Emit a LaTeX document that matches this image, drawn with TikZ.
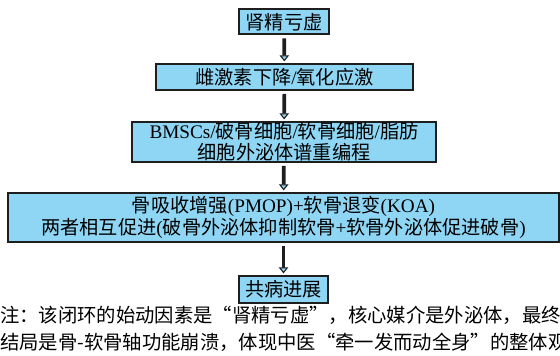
\documentclass[tikz,border=0pt]{standalone}
\usepackage{fontspec}
\setmainfont{Liberation Serif}
\newfontfamily\cjk{Noto Sans CJK SC}
\usetikzlibrary{arrows.meta}
\definecolor{boxblue}{RGB}{143,214,245}
\definecolor{edge}{RGB}{30,30,30}
\begin{document}
\begin{tikzpicture}[x=0.75pt,y=-0.75pt,
  box/.style={draw=edge, line width=1.5pt, fill=boxblue, inner sep=0pt, align=center,
    font=\fontsize{14.4}{16}\selectfont},
  flow/.style={draw=edge, line width=2.8pt,
    -{Triangle[width=7pt,length=4.5pt,line width=0.8pt,fill=boxblue]},
    shorten <=2.2pt, shorten >=1.2pt}]
\useasboundingbox (0,0) rectangle (560,356);
\node[box, minimum width=67.5pt, minimum height=18.75pt] (b1) at (284,22) {\cjk 肾精亏虚};
\node[box, minimum width=192.75pt, minimum height=19.5pt] (b2) at (284.5,77) {{\cjk 雌激素下降}/{\cjk 氧化应激}};
\node[box, minimum width=228pt, minimum height=30pt] (b3) at (284,142) {BMSCs/{\cjk 破骨细胞}/{\cjk 软骨细胞}/{\cjk 脂肪}\\{\cjk 细胞外泌体谱重编程}};
\node[box, minimum width=413.25pt, minimum height=36.75pt] (b4) at (283.5,217.5) {{\cjk 骨吸收增强}(PMOP)+{\cjk 软骨退变}(KOA)\\{\cjk 两者相互促进}({\cjk 破骨外泌体抑制软骨}+{\cjk 软骨外泌体促进破骨})};
\node[box, minimum width=66.75pt, minimum height=20.25pt] (b5) at (283.5,289.5) {\cjk 共病进展};
\draw[flow] (b1) -- (b2);
\draw[flow] (b2) -- (b3);
\draw[flow] (b3) -- (b4);
\draw[flow] (b4) -- (b5);
\node[anchor=north west, inner sep=0pt, align=left, font=\cjk\fontsize{14.5}{20.25}\selectfont] (note) at (0,306)
  {注：该闭环的始动因素是“肾精亏虚”，核心媒介是外泌体，最终\\结局是骨-软骨轴功能崩溃，体现中医“牵一发而动全身”的整体观};
\end{tikzpicture}
\end{document}
